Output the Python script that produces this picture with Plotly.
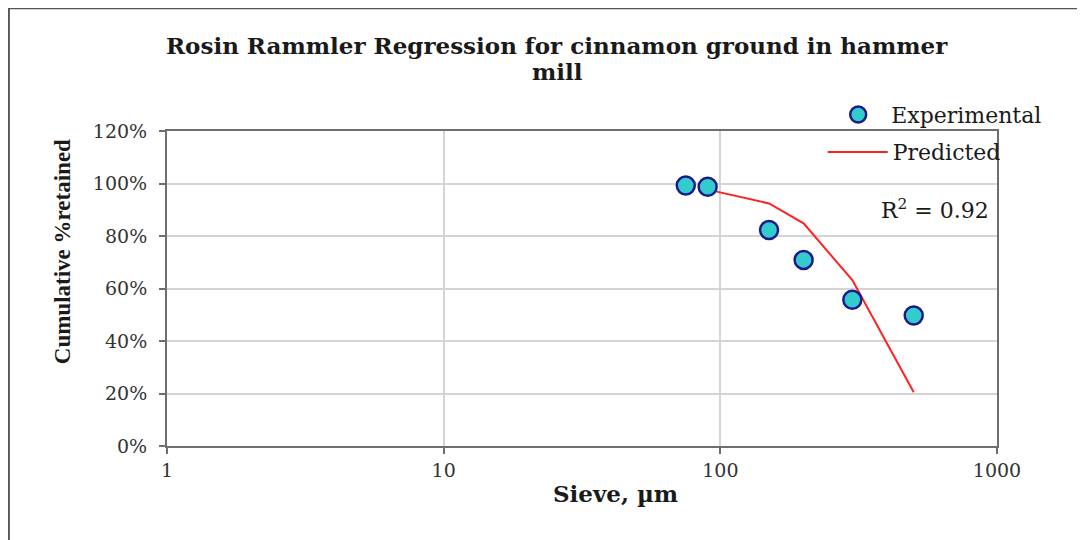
import plotly.graph_objects as go

# Data
sieve_exp = [75, 90, 150, 200, 300, 500]
retained_exp = [0.992, 0.988, 0.823, 0.709, 0.557, 0.497]
sieve_pred = [97, 150, 200, 300, 500]
retained_pred = [0.969, 0.924, 0.848, 0.632, 0.205]
y_ticks = [0, 0.2, 0.4, 0.6, 0.8, 1.0, 1.2]
y_tick_labels = ["0%", "20%", "40%", "60%", "80%", "100%", "120%"]
x_ticks = [1, 10, 100, 1000]
x_tick_labels = ["1", "10", "100", "1000"]

SERIF = "DejaVu Serif"
TEXT = "#1a1a1a"

fig = go.Figure()
fig.add_trace(go.Scatter(
    x=sieve_pred, y=retained_pred, mode="lines", name="Predicted",
    line=dict(color="#ff2020", width=2), legend="legend2",
))
fig.add_trace(go.Scatter(
    x=sieve_exp, y=retained_exp, mode="markers", name="Experimental",
    marker=dict(size=18, color="#33cccc", line=dict(color="#1a1a8c", width=2.5)),
    legend="legend",
))

axis_common = dict(
    showline=True, linecolor="#6e6e6e", linewidth=2, mirror=True,
    showgrid=True, gridcolor="#d4d4d4", gridwidth=1.5,
    ticks="outside", ticklen=6, tickcolor="#6e6e6e", tickwidth=1.5,
    zeroline=False,
    tickfont=dict(family=SERIF, size=19, color="#333333"),
)

fig.update_layout(
    width=1085, height=540,
    margin=dict(l=159, r=96, t=123, b=102),
    paper_bgcolor="white", plot_bgcolor="white",
    showlegend=True,
    xaxis=dict(type="log", range=[0, 3], tickvals=x_ticks, ticktext=x_tick_labels,
               **axis_common),
    yaxis=dict(range=[0, 1.2], tickvals=y_ticks, ticktext=y_tick_labels,
               ticklabelstandoff=8, **axis_common),
    legend=dict(x=0.793, y=1.052, xanchor="left", yanchor="middle",
                font=dict(family=SERIF, size=22, color=TEXT),
                bgcolor="rgba(0,0,0,0)", itemwidth=56),
    legend2=dict(x=0.79, y=0.933, xanchor="left", yanchor="middle",
                 font=dict(family=SERIF, size=22, color=TEXT),
                 bgcolor="rgba(0,0,0,0)", itemwidth=60),
)

fig.add_annotation(
    text="<b>Rosin Rammler Regression for cinnamon ground in hammer</b>",
    xref="paper", yref="paper", x=0.47, y=1.273, xanchor="center", yanchor="middle",
    showarrow=False, font=dict(family=SERIF, size=23, color=TEXT),
)
fig.add_annotation(
    text="<b>mill</b>",
    xref="paper", yref="paper", x=0.47, y=1.19, xanchor="center", yanchor="middle",
    showarrow=False, font=dict(family=SERIF, size=23, color=TEXT),
)
fig.add_annotation(
    text="<b>Cumulative %retained</b>", textangle=-90,
    xref="paper", yref="paper", x=-0.125, y=0.616, xanchor="center", yanchor="middle",
    showarrow=False, font=dict(family="Liberation Serif", size=23, color=TEXT),
)
fig.add_annotation(
    text="<b>Sieve, µm</b>",
    xref="paper", yref="paper", x=0.54, y=-0.152, xanchor="center", yanchor="middle",
    showarrow=False, font=dict(family=SERIF, size=23, color=TEXT),
)
fig.add_annotation(
    text="R<sup>2</sup> = 0.92",
    xref="paper", yref="paper", x=0.993, y=0.751, xanchor="right", yanchor="middle",
    showarrow=False, font=dict(family=SERIF, size=22, color=TEXT),
)
# outer chart frame
fig.add_shape(type="rect", xref="paper", yref="paper",
              x0=-0.1905, y0=-0.35, x1=1.2, y1=1.39,
              line=dict(color="#555555", width=2), layer="below")

fig.write_html("out.html")
